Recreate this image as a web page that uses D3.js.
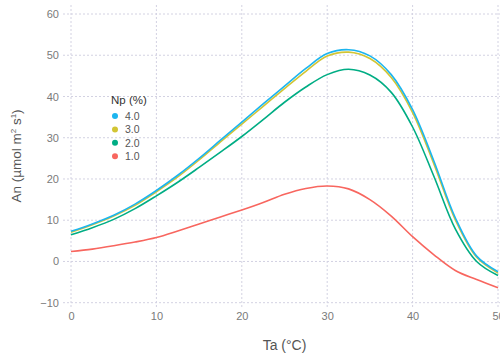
<!DOCTYPE html>
<html>
<head>
<meta charset="utf-8">
<script src="https://cdn.jsdelivr.net/npm/d3@7"></script>
<style>
  html, body { margin: 0; padding: 0; background: #fff; }
  svg { display: block; font-family: "Liberation Sans", Arial, sans-serif; }
</style>
</head>
<body>
<svg id="chart" width="500" height="358"></svg>
<script>
// Air temperature (°C) sampled every 2.5 degrees
const temperature = [0, 2.5, 5, 7.5, 10, 12.5, 15, 17.5, 20, 22.5, 25, 27.5, 30, 32.5, 35, 37.5, 40, 42.5, 45, 47.5, 50];

// Net assimilation An (µmol m⁻² s⁻¹) for each leaf nitrogen level
const an_np4 = [7.3, 9.1, 11.2, 13.9, 17.2, 20.9, 25.0, 29.4, 33.8, 38.2, 42.5, 46.8, 50.4, 51.35, 49.85, 45.3, 36.8, 24.3, 10.6, 1.3, -2.5];
const an_np3 = [7.1, 8.9, 11.0, 13.6, 16.9, 20.5, 24.6, 29.0, 33.3, 37.6, 41.9, 46.1, 49.8, 50.75, 49.2, 44.6, 36.1, 23.6, 10.1, 1.0, -2.8];
const an_np2 = [6.5, 8.2, 10.2, 12.8, 15.9, 19.2, 22.8, 26.5, 30.3, 34.4, 38.6, 42.3, 45.3, 46.6, 45.2, 41.0, 32.6, 20.6, 7.9, 0.0, -3.4];
const an_np1 = [2.4, 3.0, 3.8, 4.7, 5.8, 7.4, 9.1, 10.8, 12.5, 14.3, 16.3, 17.7, 18.3, 17.6, 15.0, 11.0, 6.0, 1.6, -2.2, -4.4, -6.4];

const seriesNames = ["4.0", "3.0", "2.0", "1.0"];
const seriesColors = ["#1cb5ef", "#d2c534", "#00ad84", "#f8665f"];
const seriesValues = [an_np4, an_np3, an_np2, an_np1];

const xTicks = [0, 10, 20, 30, 40, 50];
const yTicks = [-10, 0, 10, 20, 30, 40, 50, 60];

const svg = d3.select("#chart");

const x = d3.scaleLinear().domain([0, 50]).range([71, 498]);
const y = d3.scaleLinear().domain([-10, 60]).range([302.7, 14]);

const gridColor = "#d3d2e2";

// dotted grid
const grid = svg.append("g");
grid.selectAll("line.h").data(yTicks).join("line")
  .attr("x1", 63).attr("x2", 500)
  .attr("y1", d => y(d)).attr("y2", d => y(d))
  .attr("stroke", gridColor).attr("stroke-width", 1)
  .attr("stroke-dasharray", "2,2");
grid.selectAll("line.v").data(xTicks).join("line")
  .attr("x1", d => x(d)).attr("x2", d => x(d))
  .attr("y1", 5).attr("y2", 307)
  .attr("stroke", gridColor).attr("stroke-width", 1)
  .attr("stroke-dasharray", "2,2");

// axes (labels only, no domain line)
const yAxis = svg.append("g")
  .attr("transform", "translate(63,0)")
  .call(d3.axisLeft(y).tickValues(yTicks).tickSize(0).tickPadding(4));
yAxis.select(".domain").remove();
yAxis.selectAll("text")
  .attr("fill", "#7a7a7a").style("font-size", "11px")
  .style("font-family", "'Liberation Sans', Arial, sans-serif");

const xAxis = svg.append("g")
  .attr("transform", "translate(0,307)")
  .call(d3.axisBottom(x).tickValues(xTicks).tickSize(0).tickPadding(5));
xAxis.select(".domain").remove();
xAxis.selectAll("text")
  .attr("fill", "#7a7a7a").style("font-size", "11px")
  .style("font-family", "'Liberation Sans', Arial, sans-serif");

// curves
const line = d3.line()
  .x((d, i) => x(temperature[i]))
  .y(d => y(d))
  .curve(d3.curveCatmullRom.alpha(0.5));

// draw the low-N curve first so the others sit on top
const order = [3, 2, 1, 0];
order.forEach(k => {
  svg.append("path")
    .datum(seriesValues[k])
    .attr("d", line)
    .attr("fill", "none")
    .attr("stroke", seriesColors[k])
    .attr("stroke-width", 1.6)
    .attr("stroke-linejoin", "round");
});

// axis titles
svg.append("text")
  .attr("x", x(25)).attr("y", 350)
  .attr("text-anchor", "middle")
  .attr("fill", "#555").style("font-size", "14px")
  .text("Ta (°C)");

const yt = svg.append("text")
  .attr("transform", "translate(21,156) rotate(-90)")
  .attr("text-anchor", "middle")
  .attr("fill", "#555").style("font-size", "13.5px");
yt.append("tspan").text("An (µmol m");
yt.append("tspan").attr("dy", -5).style("font-size", "8px").text("2");
yt.append("tspan").attr("dy", 5).text(" s");
yt.append("tspan").attr("dy", -5).style("font-size", "8px").text("1");
yt.append("tspan").attr("dy", 5).text(")");

// legend
const legend = svg.append("g");
legend.append("text")
  .attr("x", 111).attr("y", 104)
  .attr("fill", "#333").style("font-size", "11.5px")
  .text("Np (%)");
const items = legend.selectAll("g.item").data(seriesNames).join("g")
  .attr("transform", (d, i) => `translate(0,${116 + i * 13.4})`);
items.append("circle")
  .attr("cx", 115).attr("cy", 0).attr("r", 3)
  .attr("fill", (d, i) => seriesColors[i]);
items.append("text")
  .attr("x", 125).attr("y", 4)
  .attr("fill", "#555").style("font-size", "10.5px")
  .text(d => d);
</script>
</body>
</html>
